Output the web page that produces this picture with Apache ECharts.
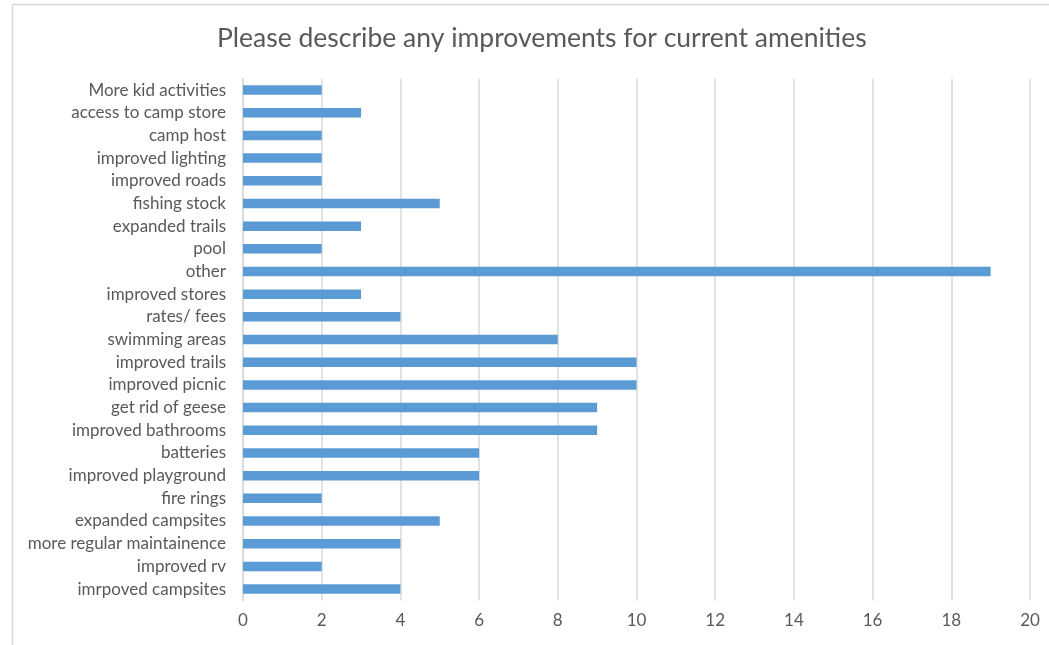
<!DOCTYPE html>
<html><head><meta charset="utf-8">
<script src="https://cdn.jsdelivr.net/npm/echarts@6/dist/echarts.min.js"></script>
<style>html,body{margin:0;padding:0;background:#fff}#c{width:1049px;height:645px}</style>
</head><body><div id="c"></div>
<script>
// Categories listed top to bottom as in the picture
const categories = ["More kid activities","access to camp store","camp host","improved lighting","improved roads","fishing stock","expanded trails","pool","other","improved stores","rates/ fees","swimming areas","improved trails","improved picnic","get rid of geese","improved bathrooms","batteries","improved playground","fire rings","expanded campsites","more regular maintainence","improved rv","imrpoved campsites"];
const values = [2,3,2,2,2,5,3,2,19,3,4,8,10,10,9,9,6,6,2,5,4,2,4];
const xTicks = [0,2,4,6,8,10,12,14,16,18,20];
const titleText = "Please describe any improvements for current amenities";

const chart = echarts.init(document.getElementById('c'));
const font = "Lato, 'Open Sans', sans-serif";
chart.setOption({
  animation:false,
  backgroundColor:'#fff',
  graphic:[{type:'rect',shape:{x:12.5,y:4.5,width:1060,height:660},style:{fill:'none',stroke:'#d9d9d9',lineWidth:1.5},silent:true}],
  title:{text:titleText,left:212,top:20,textStyle:{fontFamily:font,fontSize:26.5,fontWeight:'normal',color:'#595959'}},
  grid:{left:243,right:19,top:78.7,bottom:44.6,containLabel:false},
  xAxis:{type:'value',min:0,max:20,interval:2,
    axisLine:{show:false},axisTick:{show:false},
    axisLabel:{color:'#595959',fontFamily:font,fontSize:17,margin:12,formatter:v=>xTicks.includes(v)?String(v):''},
    splitLine:{lineStyle:{color:'#d9d9d9',width:1.5}}},
  yAxis:{type:'category',inverse:true,data:categories,
    axisLine:{show:true,lineStyle:{color:'#d9d9d9',width:1.5}},axisTick:{show:false},
    axisLabel:{color:'#595959',fontFamily:font,fontSize:17,margin:17}},
  series:[{type:'bar',data:values,barWidth:9.5,itemStyle:{color:'#5b9bd5'}}]
});
</script></body></html>
